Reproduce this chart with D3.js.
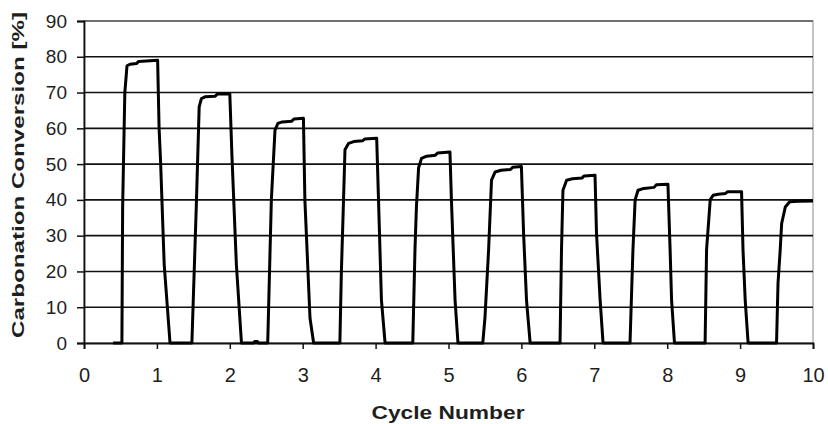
<!DOCTYPE html>
<html>
<head>
<meta charset="utf-8">
<script src="https://cdn.jsdelivr.net/npm/d3@7"></script>
<style>
  html, body { margin: 0; padding: 0; background: #fff; }
  svg { display: block; }
  text { font-family: "Liberation Sans", Arial, sans-serif; fill: #1e1e1e; }
</style>
</head>
<body>
<svg id="chart" width="828" height="424"></svg>
<script>
// Cycle time (in cycle numbers) and carbonation conversion [%] of the sorbent
const cycleTime = [
  0.40, 0.52, 0.53, 0.56, 0.59, 0.63, 0.72, 0.75, 1.01, 1.03, 1.05, 1.10, 1.18,
  1.48, 1.54, 1.58, 1.61, 1.66, 1.80, 1.83, 2.00, 2.03, 2.09, 2.16,
  2.33, 2.34, 2.38, 2.39,
  2.52, 2.57, 2.62, 2.66, 2.72, 2.85, 2.88, 3.01, 3.03, 3.10, 3.15,
  3.51, 3.53, 3.56, 3.58, 3.63, 3.70, 3.82, 3.85, 4.015, 4.04, 4.08, 4.13,
  4.51, 4.54, 4.56, 4.59, 4.63, 4.70, 4.82, 4.85, 5.02, 5.04, 5.09, 5.13,
  5.47, 5.50, 5.55, 5.59, 5.64, 5.72, 5.85, 5.88, 6.00, 6.03, 6.07, 6.12,
  6.53, 6.55, 6.57, 6.62, 6.70, 6.83, 6.86, 7.01, 7.03, 7.08, 7.12,
  7.49, 7.53, 7.56, 7.60, 7.68, 7.82, 7.85, 8.01, 8.04, 8.06, 8.10,
  8.52, 8.54, 8.59, 8.63, 8.70, 8.80, 8.83, 9.02, 9.04, 9.07, 9.11,
  9.50, 9.52, 9.55, 9.57, 9.62, 9.68, 9.80, 10.0
];
const conversion = [
  0, 0, 38, 70, 77.5, 77.9, 78.1, 78.7, 79.0, 60, 51, 22, 0,
  0, 38, 66, 68.3, 68.8, 69.0, 69.6, 69.7, 52, 22, 0,
  0, 0.4, 0.4, 0,
  0, 40, 59.5, 61.4, 61.8, 62.0, 62.6, 62.8, 40, 7, 0,
  0, 19.5, 40, 54, 55.8, 56.3, 56.5, 57.0, 57.2, 40, 12, 0,
  0, 26, 38, 49, 51.6, 52.2, 52.5, 53.1, 53.4, 40, 12, 0,
  0, 7, 26, 45.5, 47.8, 48.3, 48.5, 49.1, 49.3, 30.6, 12, 0,
  0, 26, 42.7, 45.5, 45.9, 46.1, 46.7, 46.9, 30.7, 12, 0,
  0, 26, 40, 42.7, 43.2, 43.5, 44.2, 44.4, 26, 12, 0,
  0, 26, 40, 41.3, 41.6, 41.8, 42.3, 42.3, 26, 12, 0,
  0, 16.7, 26, 33.4, 38, 39.5, 39.6, 39.7
];
const xTicks = [0, 1, 2, 3, 4, 5, 6, 7, 8, 9, 10];
const yTicks = [0, 10, 20, 30, 40, 50, 60, 70, 80, 90];
const xTitle = "Cycle Number";
const yTitle = "Carbonation Conversion [%]";

const svg = d3.select("#chart");
const margin = { left: 84, right: 15, top: 21, bottom: 81 };
const W = 828, H = 424;

const x = d3.scaleLinear().domain([0, 10]).range([margin.left, W - margin.right]);
const y = d3.scaleLinear().domain([0, 90]).range([H - margin.bottom, margin.top]);

// plot frame (top and right edges)
svg.append("rect")
  .attr("x", x(0)).attr("y", y(90))
  .attr("width", x(10) - x(0)).attr("height", y(0) - y(90))
  .attr("fill", "none").attr("stroke", "#8a8a8a").attr("stroke-width", 1);

// horizontal gridlines
svg.append("g")
  .selectAll("line")
  .data(yTicks.filter(v => v > 0))
  .join("line")
  .attr("x1", x(0)).attr("x2", x(10))
  .attr("y1", d => y(d)).attr("y2", d => y(d))
  .attr("stroke", d => d === 90 ? "#555" : "#111")
  .attr("stroke-width", 1.6);

// y axis
const yAxis = svg.append("g")
  .attr("transform", `translate(${x(0)},0)`)
  .call(d3.axisLeft(y).tickValues(yTicks).tickSize(7).tickPadding(10));
yAxis.select(".domain").attr("stroke", "#111").attr("stroke-width", 1.8);
yAxis.selectAll(".tick line").attr("stroke", "#111").attr("stroke-width", 1.5);
yAxis.selectAll(".tick text")
  .attr("font-size", 19).attr("font-family", "Liberation Sans, Arial, sans-serif")
  .attr("fill", "#1e1e1e");

// x axis
const xAxis = svg.append("g")
  .attr("transform", `translate(0,${y(0)})`)
  .call(d3.axisBottom(x).tickValues(xTicks).tickSize(6).tickPadding(19));
xAxis.select(".domain").attr("stroke", "#111").attr("stroke-width", 1.8);
xAxis.selectAll(".tick line").attr("stroke", "#111").attr("stroke-width", 1.5);
xAxis.selectAll(".tick text")
  .attr("font-size", 20).attr("font-family", "Liberation Sans, Arial, sans-serif")
  .attr("fill", "#1e1e1e");

// conversion curve
const pts = cycleTime.map((t, i) => [t, conversion[i]]);
svg.append("path")
  .datum(pts)
  .attr("fill", "none")
  .attr("stroke", "#000")
  .attr("stroke-width", 3)
  .attr("stroke-linejoin", "round")
  .attr("d", d3.line().x(d => x(d[0])).y(d => y(d[1])));

// axis titles
svg.append("text")
  .attr("x", 448).attr("y", 419)
  .attr("text-anchor", "middle")
  .attr("font-size", 19).attr("font-weight", "bold")
  .attr("textLength", 153).attr("lengthAdjust", "spacingAndGlyphs")
  .text(xTitle);

svg.append("text")
  .attr("transform", `translate(24,${(12 + 338) / 2}) rotate(-90)`)
  .attr("text-anchor", "middle")
  .attr("font-size", 16).attr("font-weight", "bold")
  .attr("textLength", 326).attr("lengthAdjust", "spacingAndGlyphs")
  .text(yTitle);
</script>
</body>
</html>
